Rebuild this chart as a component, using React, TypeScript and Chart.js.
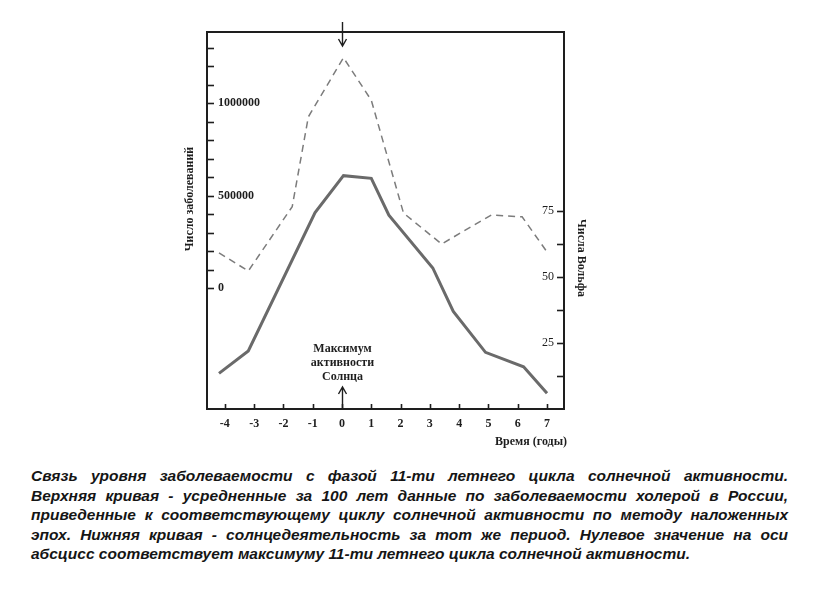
import React, { useEffect, useRef } from 'react';
import { Chart, registerables } from 'chart.js';

Chart.register(...registerables);

// ---- data ----
const xTickValues = [-4, -3, -2, -1, 0, 1, 2, 3, 4, 5, 6, 7];
const leftTickValues = [0, 100000, 200000, 300000, 400000, 500000, 600000, 700000, 800000, 900000, 1000000, 1100000, 1200000, 1300000];
const leftLabeled = [0, 500000, 1000000];
const rightTickValues = [12.5, 25, 37.5, 50, 62.5, 75];
const rightLabeled = [25, 50, 75];

// Upper curve: cholera cases (left axis)
const choleraX = [-4.2, -3.2, -1.7, -1.15, 0.05, 1.0, 2.1, 3.4, 5.1, 6.15, 7.0];
const choleraY = [190000, 92000, 440000, 925000, 1245000, 1015000, 405000, 238000, 395000, 385000, 195000];

// Lower curve: Wolf numbers (right axis)
const wolfX = [-4.2, -3.2, -0.92, 0.05, 1.0, 1.6, 3.1, 3.8, 4.9, 6.2, 7.0];
const wolfY = [13.5, 22, 74.5, 88.5, 87.5, 73.5, 53.5, 37, 21.5, 16, 6];

const leftTitle = 'Число заболеваний';
const rightTitle = 'Числа Вольфа';
const xTitle = 'Время (годы)';
const maxLabelLines = ['Максимум', 'активности', 'Солнца'];

const captionLines = [
  'Связь уровня заболеваемости с фазой 11-ти летнего цикла солнечной активности.',
  'Верхняя кривая - усредненные за 100 лет данные по заболеваемости холерой в России,',
  'приведенные к соответствующему циклу солнечной активности по методу наложенных',
  'эпох. Нижняя кривая - солнцедеятельность за тот же период. Нулевое значение на оси',
  'абсцисс соответствует максимуму 11-ти летнего цикла солнечной активности.',
];

const INK = '#1e1e1e';
const SERIF = '"Liberation Serif", "Times New Roman", serif';

const decorPlugin = {
  id: 'decor',
  afterDraw(chart: any) {
    const { ctx, chartArea: a, scales } = chart;
    const xs = scales.x;
    const yl = scales.y;
    const yr = scales.y2;
    ctx.save();
    ctx.strokeStyle = INK;
    ctx.fillStyle = INK;
    // top frame line
    ctx.lineWidth = 2;
    ctx.beginPath();
    ctx.moveTo(a.left - 1, a.top);
    ctx.lineTo(a.right + 1, a.top);
    ctx.stroke();

    // inward tick marks
    ctx.lineWidth = 1.6;
    leftTickValues.forEach((v) => {
      const y = Math.round(yl.getPixelForValue(v)) + 0.5;
      ctx.beginPath();
      ctx.moveTo(a.left, y);
      ctx.lineTo(a.left + 7, y);
      ctx.stroke();
    });
    rightTickValues.forEach((v) => {
      const y = Math.round(yr.getPixelForValue(v)) + 0.5;
      ctx.beginPath();
      ctx.moveTo(a.right, y);
      ctx.lineTo(a.right - 7, y);
      ctx.stroke();
    });
    xTickValues.forEach((v) => {
      const x = Math.round(xs.getPixelForValue(v)) + 0.5;
      ctx.beginPath();
      ctx.moveTo(x, a.bottom);
      ctx.lineTo(x, a.bottom - 5);
      ctx.stroke();
    });

    // arrows at x = 0
    const x0 = Math.round(xs.getPixelForValue(0)) + 0.5;
    ctx.lineWidth = 1.4;
    // top arrow (pointing down)
    const tTip = a.top + 14;
    ctx.beginPath();
    ctx.moveTo(x0, a.top - 10);
    ctx.lineTo(x0, tTip);
    ctx.moveTo(x0 - 4, tTip - 7);
    ctx.lineTo(x0, tTip);
    ctx.lineTo(x0 + 4, tTip - 7);
    ctx.stroke();
    // bottom arrow (pointing up)
    const bTip = a.bottom - 22;
    ctx.beginPath();
    ctx.moveTo(x0, a.bottom);
    ctx.lineTo(x0, bTip);
    ctx.moveTo(x0 - 4, bTip + 7);
    ctx.lineTo(x0, bTip);
    ctx.lineTo(x0 + 4, bTip + 7);
    ctx.stroke();

    // "Максимум активности Солнца"
    ctx.font = 'bold 12px ' + SERIF;
    ctx.textAlign = 'center';
    ctx.textBaseline = 'middle';
    maxLabelLines.forEach((t, i) => {
      ctx.fillText(t, x0, a.bottom - 60 + i * 14);
    });

    // axis titles
    ctx.save();
    ctx.translate(a.left - 17, a.top + 167);
    ctx.rotate(-Math.PI / 2);
    ctx.fillText(leftTitle, 0, 0);
    ctx.restore();

    ctx.save();
    ctx.translate(a.right + 17, a.top + 226);
    ctx.rotate(Math.PI / 2);
    ctx.fillText(rightTitle, 0, 0);
    ctx.restore();

    ctx.textAlign = 'right';
    ctx.fillText(xTitle, a.right + 3, a.bottom + 33);
    ctx.restore();
  },
};

export default function App() {
  const ref = useRef<HTMLCanvasElement | null>(null);

  useEffect(() => {
    if (!ref.current) return;
    const chart = new Chart(ref.current, {
      type: 'line',
      data: {
        datasets: [
          {
            label: 'Холера',
            data: choleraX.map((x, i) => ({ x, y: choleraY[i] })),
            yAxisID: 'y',
            borderColor: '#7c7c7c',
            borderWidth: 1.5,
            borderDash: [7, 5],
            pointRadius: 0,
            tension: 0,
            fill: false,
          },
          {
            label: 'Числа Вольфа',
            data: wolfX.map((x, i) => ({ x, y: wolfY[i] })),
            yAxisID: 'y2',
            borderColor: '#6a6a6a',
            borderWidth: 3,
            pointRadius: 0,
            tension: 0,
            fill: false,
          },
        ],
      },
      options: {
        animation: false,
        responsive: false,
        layout: { padding: { top: 24, left: 0, right: 0, bottom: 0 } },
        plugins: {
          legend: { display: false },
          tooltip: { enabled: false },
          title: { display: false },
        },
        scales: {
          x: {
            type: 'linear',
            position: 'bottom',
            min: -4.61,
            max: 7.58,
            afterBuildTicks: (s: any) => {
              s.ticks = xTickValues.map((v) => ({ value: v }));
            },
            afterFit: (s: any) => {
              s.height = 55;
            },
            grid: { display: false, drawTicks: false },
            border: { display: true, color: INK, width: 2 },
            ticks: {
              color: INK,
              padding: 8,
              font: { family: SERIF, size: 12, weight: 'bold' },
              callback: (v: any) => String(v),
            },
          },
          y: {
            type: 'linear',
            position: 'left',
            min: -654000,
            max: 1384000,
            afterBuildTicks: (s: any) => {
              s.ticks = leftTickValues.map((v) => ({ value: v }));
            },
            afterFit: (s: any) => {
              s.width = 199;
            },
            grid: { display: false, drawTicks: false },
            border: { display: true, color: INK, width: 2 },
            ticks: {
              mirror: true,
              padding: 11,
              color: INK,
              font: { family: SERIF, size: 12, weight: 'bold' },
              callback: (v: any) => (leftLabeled.includes(Number(v)) ? String(v) : ''),
            },
          },
          y2: {
            type: 'linear',
            position: 'right',
            min: 0,
            max: 143,
            afterBuildTicks: (s: any) => {
              s.ticks = rightTickValues.map((v) => ({ value: v }));
            },
            afterFit: (s: any) => {
              s.width = 244;
            },
            grid: { display: false, drawTicks: false },
            border: { display: true, color: INK, width: 2 },
            ticks: {
              mirror: true,
              padding: -10,
              color: INK,
              font: { family: SERIF, size: 12 },
              callback: (v: any) => (rightLabeled.includes(Number(v)) ? String(v) : ''),
            },
          },
        },
      },
      plugins: [decorPlugin],
    } as any);
    return () => chart.destroy();
  }, []);

  return (
    <div style={{ background: '#fff' }}>
      <canvas ref={ref} width={800} height={456} style={{ display: 'block', width: 800, height: 456 }} />
      <div
        style={{
          margin: '2px 0 0 23px',
          width: 757,
          font: 'italic bold 15.5px "Liberation Sans", Arial, sans-serif',
          lineHeight: '19.5px',
          color: '#151515',
        }}
      >
        {captionLines.map((t, i) => (
          <div
            key={i}
            style={{
              textAlign: 'justify',
              textAlignLast: i === captionLines.length - 1 ? 'left' : 'justify',
            }}
          >
            {t}
          </div>
        ))}
      </div>
    </div>
  );
}
